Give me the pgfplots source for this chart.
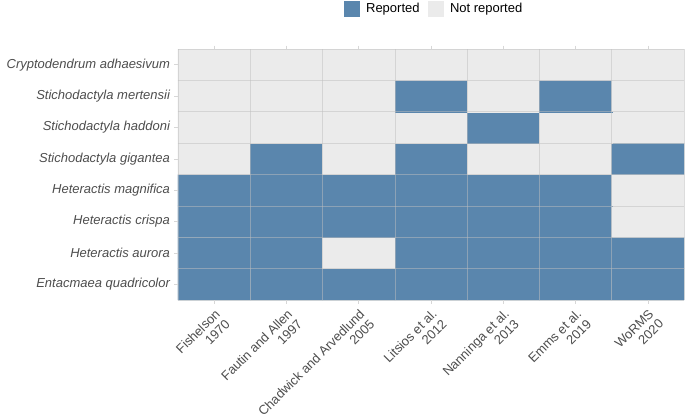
\documentclass[border=0pt]{standalone}
\usepackage{fontspec}
\setmainfont{Liberation Sans}
\usepackage{pgfplots}
\pgfplotsset{compat=1.18}
\definecolor{rep}{RGB}{90,134,173}
\definecolor{notrep}{RGB}{235,235,235}
\definecolor{lab}{RGB}{77,77,77}
\definecolor{tickc}{RGB}{215,215,215}
\begin{document}
\begin{tikzpicture}
\begin{axis}[
  scale only axis, width=506pt, height=251pt,
  xmin=-0.5, xmax=6.5, ymin=-0.5, ymax=7.5,
  axis on top,
  axis line style={draw=none},
  colormap={rn}{rgb255=(235,235,235) rgb255=(90,134,173)},
  point meta min=0, point meta max=1,
  xtick={0,...,6}, ytick={0,...,7},
  xticklabels={{Fishelson\\1970},{Fautin and Allen\\1997},{Chadwick and Arvedlund\\2005},{Litsios et al.\\2012},{Nanninga et al.\\2013},{Emms et al.\\2019},{WoRMS\\2020}},
  yticklabels={Entacmaea quadricolor,Heteractis aurora,Heteractis crispa,Heteractis magnifica,Stichodactyla gigantea,Stichodactyla haddoni,Stichodactyla mertensii,Cryptodendrum adhaesivum},
  tick align=outside, major tick length=3.5pt,
  xtick pos=both, xticklabel pos=lower, ytick pos=left,
  major tick style={draw=tickc, line width=0.6pt},
  minor xtick={-0.5,0.5,...,6.5}, minor ytick={-0.5,0.5,...,7.5},
  minor tick length=0pt,
  grid=minor,
  minor grid style={draw=black!25, opacity=0.5, line width=0.7pt},
  xticklabel style={font=\fontsize{13}{14}\selectfont, text=lab, rotate=45, anchor=north east, align=right},
  yticklabel style={font=\fontsize{13}{15}\selectfont\itshape, text=lab, xshift=-1pt},
  legend style={draw=none, fill=none, at={(0.5,1)}, anchor=north, yshift=48pt, xshift=3pt,
    font=\fontsize{13}{15}\selectfont, inner sep=0pt,
    /tikz/every odd column/.append style={column sep=5pt},
    /tikz/every even column/.append style={column sep=6pt}},
  legend columns=2, legend cell align=left,
]
\addplot[matrix plot*, mesh/cols=7, point meta=explicit, forget plot] table[meta=c] {
x y c
0 0 1
1 0 1
2 0 1
3 0 1
4 0 1
5 0 1
6 0 1
0 1 1
1 1 1
2 1 0
3 1 1
4 1 1
5 1 1
6 1 1
0 2 1
1 2 1
2 2 1
3 2 1
4 2 1
5 2 1
6 2 0
0 3 1
1 3 1
2 3 1
3 3 1
4 3 1
5 3 1
6 3 0
0 4 0
1 4 1
2 4 0
3 4 1
4 4 0
5 4 0
6 4 1
0 5 0
1 5 0
2 5 0
3 5 0
4 5 1
5 5 0
6 5 0
0 6 0
1 6 0
2 6 0
3 6 1
4 6 0
5 6 1
6 6 0
0 7 0
1 7 0
2 7 0
3 7 0
4 7 0
5 7 0
6 7 0
};
\addlegendimage{legend image code/.code={\fill[rep] (0pt,-7.5pt) rectangle (15pt,7.5pt);}}
\addlegendentry{Reported}
\addlegendimage{legend image code/.code={\fill[notrep] (0pt,-7.5pt) rectangle (15pt,7.5pt);}}
\addlegendentry{Not reported}
\end{axis}
\pgfresetboundingbox
\path (current axis.south west) ++(-178pt,-117pt) rectangle ++(685pt,417pt);
\end{tikzpicture}
\end{document}
